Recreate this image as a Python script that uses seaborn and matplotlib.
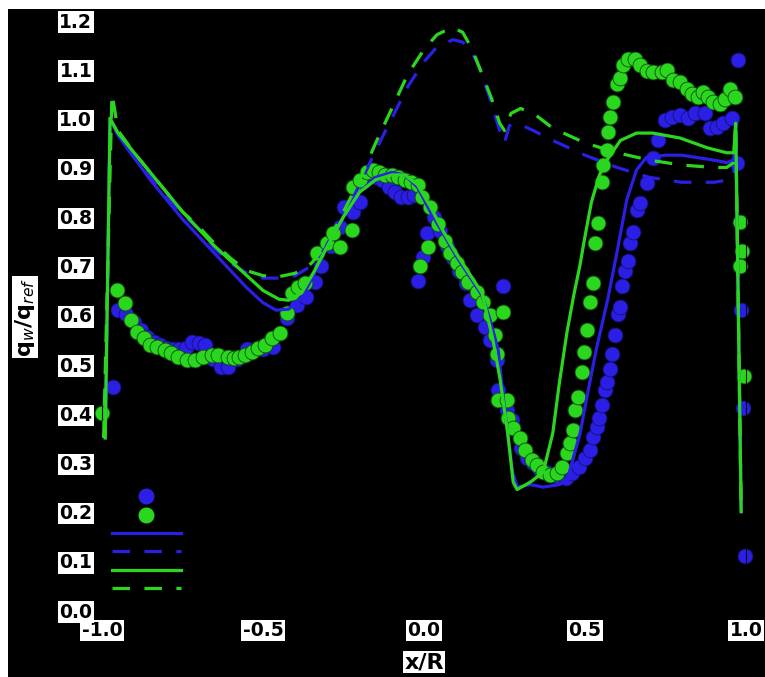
import numpy as np
import pandas as pd
import matplotlib
matplotlib.use("Agg")
import matplotlib.pyplot as plt
from matplotlib.lines import Line2D
from matplotlib.patches import Rectangle
import seaborn as sns

# ---------------- data ----------------
# CFD, case 1 (blue), solid
bs_x = [-0.99, -0.975, -0.95, -0.90, -0.85, -0.80, -0.75, -0.70, -0.65, -0.60, -0.55, -0.50,
        -0.46, -0.42, -0.38, -0.34, -0.30, -0.25, -0.20, -0.15, -0.10, -0.06, -0.02, 0.02,
        0.06, 0.10, 0.14, 0.18, 0.205, 0.23, 0.25, 0.275, 0.29, 0.33, 0.37, 0.42, 0.445,
        0.485, 0.505, 0.535, 0.57, 0.60, 0.63, 0.66, 0.69, 0.75, 0.80, 0.85, 0.90, 0.94,
        0.962, 0.968, 0.985]
bs_y = [0.35, 1.00, 0.965, 0.92, 0.875, 0.835, 0.795, 0.76, 0.725, 0.69, 0.655, 0.625,
        0.61, 0.612, 0.635, 0.685, 0.745, 0.80, 0.85, 0.88, 0.89, 0.885, 0.86, 0.81,
        0.765, 0.72, 0.68, 0.64, 0.59, 0.53, 0.41, 0.28, 0.25, 0.255, 0.25, 0.255, 0.265,
        0.36, 0.43, 0.53, 0.63, 0.73, 0.835, 0.895, 0.92, 0.925, 0.925, 0.92, 0.915, 0.91,
        0.915, 0.99, 0.20]

# CFD, case 1 (blue), dashed
bd_x = [-0.99, -0.975, -0.95, -0.90, -0.85, -0.80, -0.75, -0.70, -0.65, -0.60, -0.55, -0.50,
        -0.45, -0.40, -0.35, -0.30, -0.25, -0.20, -0.15, -0.10, -0.05, 0.00, 0.04, 0.09,
        0.12, 0.145, 0.175, 0.205, 0.235, 0.25, 0.265, 0.29, 0.34, 0.40, 0.50, 0.60, 0.70,
        0.80, 0.90, 0.95, 0.962, 0.968, 0.985]
bd_y = [0.35, 1.00, 0.965, 0.92, 0.88, 0.84, 0.805, 0.775, 0.735, 0.705, 0.685, 0.675,
        0.675, 0.68, 0.70, 0.74, 0.80, 0.865, 0.935, 1.00, 1.065, 1.115, 1.145, 1.16,
        1.155, 1.14, 1.10, 1.04, 0.975, 0.95, 0.985, 0.99, 0.975, 0.955, 0.925, 0.90, 0.88,
        0.87, 0.87, 0.875, 0.89, 0.99, 0.20]

# CFD, case 2 (green), solid
gs_x = [-0.99, -0.975, -0.95, -0.90, -0.85, -0.80, -0.75, -0.70, -0.65, -0.60, -0.55, -0.50,
        -0.45, -0.42, -0.38, -0.34, -0.30, -0.25, -0.20, -0.15, -0.10, -0.06, -0.02, 0.02,
        0.06, 0.10, 0.14, 0.18, 0.214, 0.236, 0.26, 0.277, 0.289, 0.33, 0.37, 0.40, 0.42,
        0.444, 0.465, 0.484, 0.50, 0.52, 0.545, 0.568, 0.61, 0.66, 0.71, 0.795, 0.88, 0.94,
        0.962, 0.968, 0.985]
gs_y = [0.35, 1.00, 0.97, 0.93, 0.89, 0.85, 0.81, 0.775, 0.74, 0.71, 0.68, 0.65,
        0.632, 0.63, 0.645, 0.69, 0.74, 0.80, 0.85, 0.875, 0.885, 0.885, 0.865, 0.82,
        0.77, 0.725, 0.685, 0.645, 0.55, 0.47, 0.36, 0.26, 0.245, 0.26, 0.28, 0.36, 0.46,
        0.565, 0.64, 0.70, 0.76, 0.83, 0.885, 0.915, 0.955, 0.97, 0.97, 0.96, 0.94, 0.93,
        0.93, 0.99, 0.20]

# CFD, case 2 (green), dashed
gd_x = [-0.995, -0.969, -0.95, -0.90, -0.85, -0.80, -0.75, -0.70, -0.65, -0.60, -0.55, -0.50,
        -0.45, -0.40, -0.35, -0.30, -0.25, -0.20, -0.15, -0.10, -0.05, 0.00, 0.04, 0.087,
        0.12, 0.15, 0.18, 0.21, 0.235, 0.25, 0.27, 0.30, 0.34, 0.40, 0.50, 0.60, 0.70,
        0.80, 0.90, 0.94, 0.962, 0.968, 0.985]
gd_y = [0.35, 1.05, 0.975, 0.93, 0.89, 0.85, 0.81, 0.78, 0.745, 0.715, 0.69, 0.68,
        0.678, 0.685, 0.705, 0.745, 0.81, 0.875, 0.95, 1.02, 1.09, 1.14, 1.17, 1.185,
        1.175, 1.14, 1.09, 1.04, 0.99, 0.975, 1.01, 1.02, 1.01, 0.98, 0.95, 0.93, 0.915,
        0.905, 0.90, 0.90, 0.91, 0.99, 0.20]

# Experiment, case 1 (blue dots)
be_x = [-0.966, -0.95, -0.925, -0.90, -0.88, -0.86, -0.84, -0.82, -0.80, -0.78, -0.76, -0.74,
        -0.72, -0.70, -0.68, -0.655, -0.63, -0.61, -0.58, -0.55, -0.50, -0.47, -0.425, -0.395,
        -0.365, -0.34, -0.32, -0.29, -0.26, -0.25, -0.22, -0.20, -0.19, -0.17, -0.15, -0.13,
        -0.11, -0.09, -0.07, -0.05, -0.03, -0.02, -0.003, 0.009, 0.03, 0.05, 0.07, 0.09,
        0.11, 0.13, 0.143, 0.165, 0.19, 0.205, 0.226, 0.23, 0.245, 0.258, 0.273, 0.30,
        0.32, 0.34, 0.36, 0.38, 0.40, 0.42, 0.44, 0.46, 0.48, 0.50, 0.515, 0.525,
        0.537, 0.545, 0.553, 0.562, 0.568, 0.578, 0.584, 0.593, 0.603, 0.609, 0.615, 0.624,
        0.634, 0.64, 0.649, 0.661, 0.671, 0.693, 0.711, 0.727, 0.748, 0.770, 0.795, 0.82,
        0.842, 0.873, 0.888, 0.910, 0.929, 0.957, 0.972, 0.975, 0.984, 0.991, 0.997]
be_y = [0.453, 0.61, 0.603, 0.585, 0.57, 0.555, 0.545, 0.54, 0.533, 0.53, 0.53, 0.533,
        0.545, 0.543, 0.54, 0.51, 0.494, 0.494, 0.51, 0.53, 0.53, 0.535, 0.593, 0.62,
        0.636, 0.667, 0.70, 0.74, 0.78, 0.82, 0.81, 0.83, 0.87, 0.88, 0.88, 0.875,
        0.86, 0.85, 0.84, 0.84, 0.845, 0.67, 0.717, 0.766, 0.80, 0.77, 0.74, 0.715,
        0.69, 0.665, 0.63, 0.60, 0.575, 0.55, 0.508, 0.447, 0.66, 0.407, 0.386, 0.33,
        0.31, 0.30, 0.285, 0.28, 0.275, 0.27, 0.268, 0.278, 0.29, 0.309, 0.325, 0.352,
        0.372, 0.39, 0.417, 0.447, 0.463, 0.49, 0.52, 0.56, 0.603, 0.616, 0.66, 0.69,
        0.71, 0.746, 0.768, 0.813, 0.827, 0.868, 0.92, 0.955, 0.996, 1.002, 1.006, 1.0,
        1.01, 1.01, 0.98, 0.982, 0.99, 1.0, 0.91, 1.118, 0.61, 0.41, 0.11]

# Experiment, case 2 (green dots)
ge_x = [-1.0, -0.953, -0.93, -0.91, -0.89, -0.87, -0.85, -0.83, -0.805, -0.785, -0.765, -0.736,
        -0.71, -0.685, -0.658, -0.64, -0.61, -0.59, -0.575, -0.555, -0.534, -0.515, -0.494, -0.472,
        -0.447, -0.425, -0.41, -0.39, -0.37, -0.332, -0.30, -0.283, -0.26, -0.224, -0.22, -0.20,
        -0.177, -0.158, -0.14, -0.12, -0.10, -0.08, -0.06, -0.04, -0.02, -0.005, -0.012, 0.012,
        0.019, 0.043, 0.065, 0.081, 0.102, 0.118, 0.137, 0.165, 0.183, 0.205, 0.22, 0.227,
        0.23, 0.245, 0.258, 0.262, 0.276, 0.298, 0.314, 0.336, 0.351, 0.37, 0.392, 0.413,
        0.429, 0.444, 0.453, 0.463, 0.469, 0.478, 0.491, 0.497, 0.506, 0.516, 0.525, 0.531,
        0.54, 0.553, 0.556, 0.568, 0.571, 0.578, 0.587, 0.599, 0.609, 0.618, 0.634, 0.655,
        0.671, 0.693, 0.711, 0.739, 0.755, 0.773, 0.795, 0.817, 0.832, 0.851, 0.866, 0.882,
        0.897, 0.919, 0.935, 0.95, 0.966, 0.981, 0.988, 0.981, 0.994]
ge_y = [0.40, 0.65, 0.625, 0.59, 0.565, 0.553, 0.54, 0.535, 0.528, 0.522, 0.514, 0.508,
        0.508, 0.514, 0.518, 0.518, 0.514, 0.512, 0.514, 0.518, 0.524, 0.532, 0.539, 0.553,
        0.563, 0.604, 0.644, 0.657, 0.665, 0.726, 0.746, 0.766, 0.738, 0.772, 0.86, 0.874,
        0.89, 0.894, 0.89, 0.885, 0.885, 0.88, 0.875, 0.87, 0.865, 0.84, 0.70, 0.738,
        0.82, 0.786, 0.75, 0.726, 0.705, 0.687, 0.667, 0.646, 0.626, 0.60, 0.56, 0.52,
        0.427, 0.606, 0.427, 0.39, 0.37, 0.35, 0.325, 0.305, 0.295, 0.28, 0.274, 0.278,
        0.29, 0.32, 0.34, 0.366, 0.407, 0.433, 0.484, 0.524, 0.569, 0.626, 0.665, 0.746,
        0.787, 0.87, 0.905, 0.935, 0.972, 1.002, 1.033, 1.07, 1.083, 1.108, 1.12, 1.12,
        1.108, 1.097, 1.094, 1.094, 1.098, 1.077, 1.073, 1.06, 1.05, 1.043, 1.053, 1.043,
        1.033, 1.03, 1.04, 1.06, 1.043, 0.79, 0.73, 0.70, 0.475]

x_ticks = [-1.0, -0.5, 0.0, 0.5, 1.0]
y_ticks = [0.0, 0.1, 0.2, 0.3, 0.4, 0.5, 0.6, 0.7, 0.8, 0.9, 1.0, 1.1, 1.2]

BLUE = "#2b1fe6"
GREEN = "#2bd61f"

# ---------------- figure ----------------
W, H = 765, 677
fig = plt.figure(figsize=(W / 100, H / 100), dpi=100)
fig.patch.set_facecolor("white")
fig.patches.append(Rectangle((8 / W, 0), 1, 1 - 9 / H, transform=fig.transFigure,
                             facecolor="black", edgecolor="none", zorder=-10))

ax = fig.add_axes([102 / W, (H - 610) / H, 644 / W, 590 / H])
ax.set_facecolor("black")
for s in ax.spines.values():
    s.set_color("black")

sc_kw = dict(s=115, linewidth=0.6, zorder=2, legend=False, clip_on=False)
sns.scatterplot(x=be_x, y=be_y, color=BLUE, edgecolor="#141070", ax=ax, **sc_kw)
sns.scatterplot(x=ge_x, y=ge_y, color=GREEN, edgecolor="#0e4a0a", ax=ax, **sc_kw)

dash = (0, (5.5, 4.5))
ln_kw = dict(lw=2.3, sort=False, estimator=None, legend=False, ax=ax)
sns.lineplot(x=bs_x, y=bs_y, color=BLUE, zorder=3, **ln_kw)
sns.lineplot(x=bd_x, y=bd_y, color=BLUE, linestyle=dash, zorder=3, **ln_kw)
sns.lineplot(x=gs_x, y=gs_y, color=GREEN, zorder=4, **ln_kw)
sns.lineplot(x=gd_x, y=gd_y, color=GREEN, linestyle=dash, zorder=4, **ln_kw)

ax.set_xlim(-1.0, 1.0)
ax.set_ylim(0.0, 1.2)
ax.set_xticks(x_ticks)
ax.set_yticks(y_ticks)
ax.set_xticklabels([f"{v:.1f}" for v in x_ticks])
ax.set_yticklabels([f"{v:.1f}" for v in y_ticks])
ax.tick_params(axis="both", colors="black", length=0, labelcolor="black")
ax.tick_params(axis="x", pad=8)
ax.tick_params(axis="y", pad=7)
box = dict(facecolor="white", edgecolor="none", pad=1.0)
for lab in ax.get_xticklabels() + ax.get_yticklabels():
    lab.set_fontsize(13.5)
    lab.set_fontweight("bold")
    lab.set_bbox(box)

ax.set_xlabel("x/R", fontsize=16, fontweight="bold", color="black", bbox=box)
ax.xaxis.set_label_coords(0.5, (610 - 662) / 590)
ax.xaxis.label.set_va("center")
ax.set_ylabel(r"q$_w$/q$_{ref}$", fontsize=16, fontweight="bold", color="black", bbox=box)
ax.yaxis.set_label_coords((25 - 102) / 644, (610 - 317) / 590)
ax.yaxis.label.set_va("center")

handles = [
    Line2D([], [], ls="none", marker="o", ms=10.5, color=BLUE, mec=BLUE),
    Line2D([], [], ls="none", marker="o", ms=10.5, color=GREEN, mec=GREEN),
    Line2D([], [], color=BLUE, lw=2.3),
    Line2D([], [], color=BLUE, lw=2.3, ls=dash),
    Line2D([], [], color=GREEN, lw=2.3),
    Line2D([], [], color=GREEN, lw=2.3, ls=dash),
]
leg = ax.legend(handles, [" "] * 6, loc="upper left",
                bbox_to_anchor=(112 / W, 1 - 490 / H), bbox_transform=fig.transFigure,
                frameon=False, fontsize=10, handlelength=4.96, borderpad=0,
                borderaxespad=0, labelspacing=0.32, handletextpad=0.5)
for t in leg.get_texts():
    t.set_color("black")

fig.savefig("out.png", dpi=100, facecolor=fig.get_facecolor())
